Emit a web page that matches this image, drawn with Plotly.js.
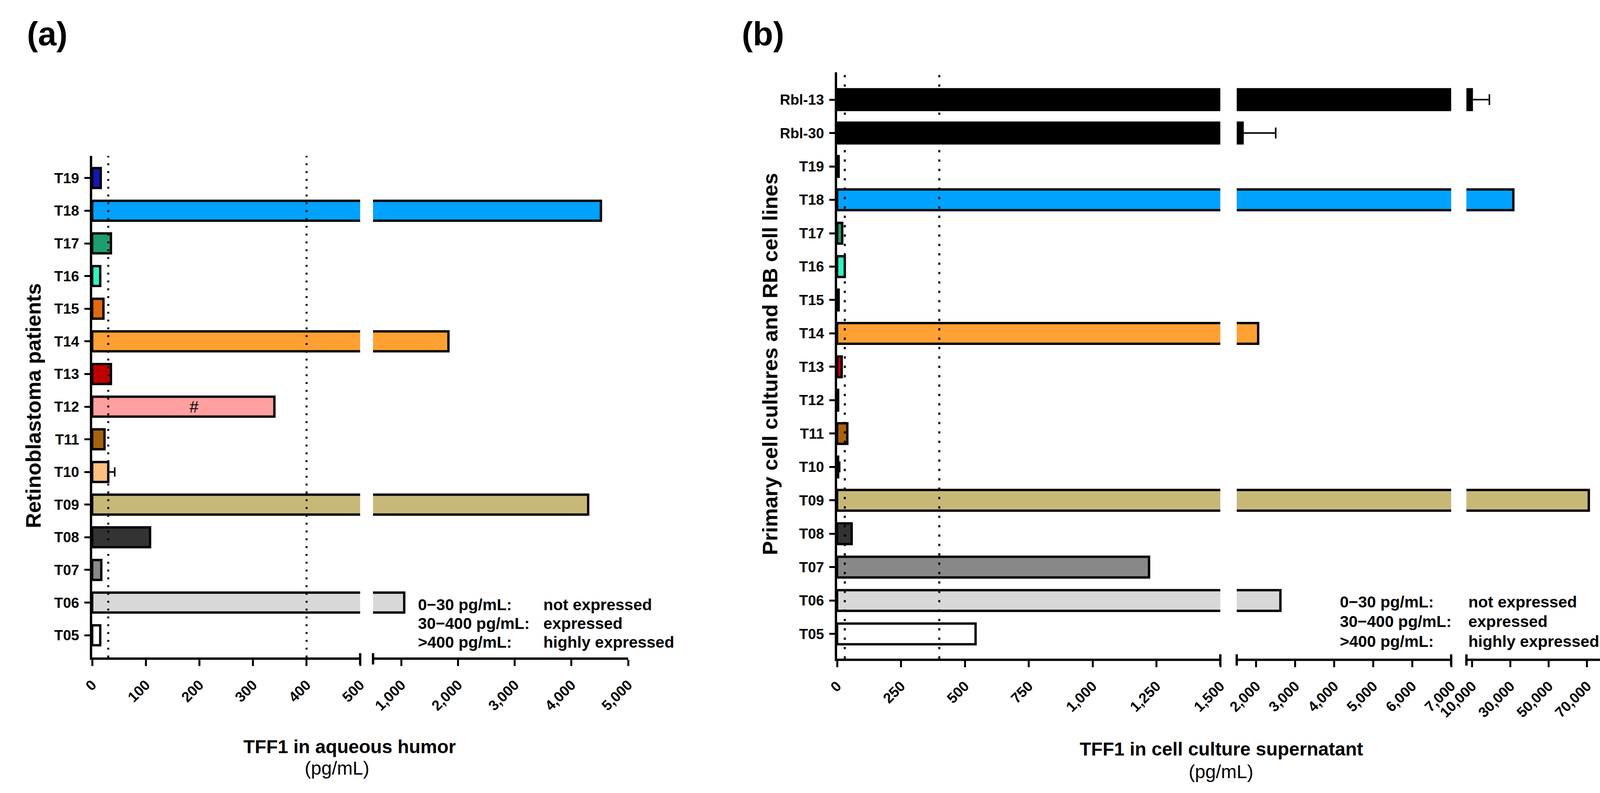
<!DOCTYPE html>
<html>
<head>
<meta charset="utf-8">
<script src="https://cdn.plot.ly/plotly-3.0.1.min.js"></script>
<style>
html,body{margin:0;padding:0;background:#ffffff;}
#chart{width:4160px;height:2030px;}
</style>
</head>
<body>
<div id="chart"></div>
<script>
// ---------------- DATA ----------------
// Panel (a): TFF1 in aqueous humor (pg/mL), top to bottom
const categoriesA = ['T19','T18','T17','T16','T15','T14','T13','T12','T11','T10','T09','T08','T07','T06','T05'];
const valuesA     = [16, 4520, 35, 15, 21, 1830, 35, 340, 23, 30, 4295, 108, 17, 1050, 15];
const errorsA     = [0, 0, 0, 0, 0, 0, 0, 0, 0, 12, 0, 0, 0, 0, 0];
const colorsA     = ['#1616b0','#00a2ff','#1e9e6e','#2ef5c5','#e06a10','#ffa032','#c00000','#ffa0a0','#a86210','#ffc080','#c8b878','#333333','#888888','#d8d8d8','#ffffff'];

// Panel (b): TFF1 in cell culture supernatant (pg/mL), top to bottom
const categoriesB = ['Rbl-13','Rbl-30','T19','T18','T17','T16','T15','T14','T13','T12','T11','T10','T09','T08','T07','T06','T05'];
const valuesB     = [9800, 1650, 6, 31500, 20, 30, 6, 2050, 18, 4, 40, 4, 70900, 57, 1221, 2620, 542];
const errorsB     = [9200, 850, 0, 0, 0, 0, 0, 0, 0, 0, 0, 6, 0, 0, 0, 0, 0];
const colorsB     = ['#000000','#000000','#1616b0','#00a2ff','#1e9e6e','#2ef5c5','#e06a10','#ffa032','#c00000','#ffa0a0','#a86210','#ffc080','#c8b878','#333333','#888888','#d8d8d8','#ffffff'];

// Expression thresholds (dotted lines)
const thresholds = [30, 400];

// Broken-axis segments and tick values
const rangesA   = [[0, 500], [500, 5000]];
const tickValsA = [[0, 100, 200, 300, 400, 500], [1000, 2000, 3000, 4000, 5000]];
const rangesB   = [[0, 1500], [1500, 7000], [7000, 80000]];
const tickValsB = [[0, 250, 500, 750, 1000, 1250, 1500], [2000, 3000, 4000, 5000, 6000, 7000], [10000, 30000, 50000, 70000]];

// Texts
const legendRanges = ['0\u221230 pg/mL:', '30\u2212400 pg/mL:', '>400 pg/mL:'];
const legendLabels = ['not expressed', 'expressed', 'highly expressed'];
const titleA  = 'TFF1 in aqueous humor';
const titleB  = 'TFF1 in cell culture supernatant';
const unit    = '(pg/mL)';
const yTitleA = 'Retinoblastoma patients';
const yTitleB = 'Primary cell cultures and RB cell lines';
const markT12 = '#';

// ---------------- LAYOUT HELPERS ----------------
const W = 4160, H = 2030;
const px = v => v / W;
const py = v => 1 - v / H;
const FONT = 'Liberation Sans, Arial, Helvetica, sans-serif';

const segA  = [[236, 922], [955, 1608]];
const yPixA = [399, 1683];
const segB  = [[2143, 3124], [3166, 3715], [3754, 4112]];
const yPixB = [185, 1686];

const xIdsA = ['x', 'x2'];
const xIdsB = ['x3', 'x4', 'x5'];

function axName(id) { return id === 'x' ? 'xaxis' : 'xaxis' + id.slice(1); }

function makeXAxis(seg, range, ticks, yId) {
  return {
    anchor: yId,
    domain: [px(seg[0]), px(seg[1])],
    range: range,
    tickmode: 'array',
    tickvals: ticks,
    tickformat: ',d',
    tickangle: -45,
    ticks: 'outside',
    ticklen: 16,
    tickwidth: 5,
    tickcolor: '#000',
    ticklabelstandoff: 12,
    showline: true,
    linewidth: 6,
    linecolor: '#000',
    showgrid: false,
    zeroline: false,
    tickfont: {family: FONT, size: 37, color: '#000', weight: 'bold'},
    fixedrange: true
  };
}

function makeYAxis(cats, yPix, xId, padTop, padBottom) {
  return {
    anchor: xId,
    domain: [py(yPix[1]), py(yPix[0])],
    type: 'category',
    categoryorder: 'array',
    categoryarray: cats,
    range: [cats.length - 1 + padBottom, -padTop],
    ticks: 'outside',
    ticklen: 14,
    tickwidth: 5,
    tickcolor: '#000',
    ticklabelstandoff: 6,
    showline: true,
    linewidth: 6,
    linecolor: '#000',
    showgrid: false,
    zeroline: false,
    tickfont: {family: FONT, size: 37, color: '#000', weight: 'bold'},
    fixedrange: true
  };
}

const layout = {
  width: W, height: H,
  margin: {l: 0, r: 0, t: 0, b: 0, pad: 0},
  paper_bgcolor: '#ffffff',
  plot_bgcolor: 'rgba(0,0,0,0)',
  showlegend: false,
  barmode: 'overlay',
  shapes: [],
  annotations: []
};

const traces = [];
const zerosA = valuesA.map(() => 0);
const zerosB = valuesB.map(() => 0);
const errA = errorsA.map(e => e > 0 ? e : NaN);
const errB = errorsB.map(e => e > 0 ? e : NaN);

// Panel (a)
layout.yaxis = makeYAxis(categoriesA, yPixA, 'x', 0.68, 0.68);
xIdsA.forEach((id, i) => {
  layout[axName(id)] = makeXAxis(segA[i], rangesA[i], tickValsA[i], 'y');
  traces.push({
    type: 'bar', orientation: 'h',
    x: valuesA, y: categoriesA,
    xaxis: id, yaxis: 'y',
    width: 0.61,
    marker: {color: colorsA, line: {color: '#000', width: 6}},
    error_x: {type: 'data', symmetric: false, array: errA, arrayminus: zerosA, color: '#000', thickness: 4, width: 12, visible: true},
    hoverinfo: 'skip'
  });
});

// Panel (b)
layout.yaxis2 = makeYAxis(categoriesB, yPixB, 'x3', 0.82, 0.74);
xIdsB.forEach((id, i) => {
  layout[axName(id)] = makeXAxis(segB[i], rangesB[i], tickValsB[i], 'y2');
  traces.push({
    type: 'bar', orientation: 'h',
    x: valuesB, y: categoriesB,
    xaxis: id, yaxis: 'y2',
    width: 0.62,
    marker: {color: colorsB, line: {color: '#000', width: 6}},
    error_x: {type: 'data', symmetric: false, array: errB, arrayminus: zerosB, color: '#000', thickness: 4, width: 14, visible: true},
    hoverinfo: 'skip'
  });
});

// Threshold dotted lines
thresholds.forEach(t => {
  layout.shapes.push({type: 'line', xref: 'x', yref: 'y domain', x0: t, x1: t, y0: 0, y1: 1,
    line: {color: '#000', width: 5, dash: '5px,15px'}, layer: 'above'});
  layout.shapes.push({type: 'line', xref: 'x3', yref: 'y2 domain', x0: t, x1: t, y0: 0, y1: 1,
    line: {color: '#000', width: 5, dash: '6px,18px'}, layer: 'above'});
});

// Axis-break caps
function addCaps(segs, yPix) {
  const yc = yPix[1] + 3;
  for (let i = 0; i < segs.length - 1; i++) {
    [segs[i][1], segs[i + 1][0]].forEach(xp => {
      layout.shapes.push({type: 'line', xref: 'paper', yref: 'paper',
        x0: px(xp), x1: px(xp), y0: py(yc + 15), y1: py(yc - 14),
        line: {color: '#000', width: 6}});
    });
  }
}
addCaps(segA, yPixA);
addCaps(segB, yPixB);

// Annotations
function ann(text, x, y, size, bold, opts) {
  return Object.assign({
    text: text, xref: 'paper', yref: 'paper', x: px(x), y: py(y),
    xanchor: 'center', yanchor: 'middle', showarrow: false,
    font: {family: FONT, size: size, color: '#000', weight: bold ? 'bold' : 'normal'}
  }, opts || {});
}

layout.annotations.push(ann('(a)', 121, 87, 85, true));
layout.annotations.push(ann('(b)', 1953, 87, 85, true));
layout.annotations.push(ann(yTitleA, 85, 1039, 54, true, {textangle: -90}));
layout.annotations.push(ann(yTitleB, 1971, 932, 54, true, {textangle: -90}));
layout.annotations.push(ann(titleA, 895, 1911, 48, true));
layout.annotations.push(ann(unit, 862, 1966, 48, false));
layout.annotations.push(ann(titleB, 3126, 1917, 48, true));
layout.annotations.push(ann(unit, 3125, 1975, 48, false));

const legYA = [1548, 1596, 1644];
const legYB = [1541, 1591, 1642];
legendRanges.forEach((t, i) => {
  layout.annotations.push(ann(t, 1068, legYA[i], 41, true, {xanchor: 'left'}));
  layout.annotations.push(ann(legendLabels[i], 1389, legYA[i], 41, true, {xanchor: 'left'}));
  layout.annotations.push(ann(t, 3428, legYB[i], 41, true, {xanchor: 'left'}));
  layout.annotations.push(ann(legendLabels[i], 3757, legYB[i], 41, true, {xanchor: 'left'}));
});

// '#' mark on the T12 bar
layout.annotations.push({
  text: markT12, xref: 'x', yref: 'y', x: 190, y: categoriesA.indexOf('T12'),
  xanchor: 'center', yanchor: 'middle', showarrow: false,
  font: {family: FONT, size: 42, color: '#000'}
});

Plotly.newPlot('chart', traces, layout, {staticPlot: true, displayModeBar: false});
</script>
</body>
</html>
